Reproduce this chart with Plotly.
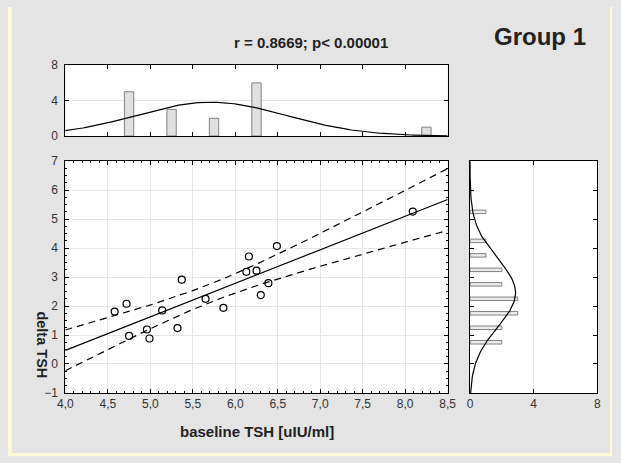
import numpy as np
import plotly.graph_objects as go

# ---- data ----
baseline_tsh = [4.58, 4.72, 4.75, 4.96, 4.99, 5.14, 5.32, 5.37, 5.65, 5.86,
                6.13, 6.16, 6.25, 6.30, 6.39, 6.49, 8.09]
delta_tsh = [1.81, 2.08, 0.97, 1.19, 0.88, 1.85, 1.24, 2.91, 2.25, 1.94,
             3.18, 3.71, 3.22, 2.38, 2.79, 4.07, 5.26]

top_bin_centers = [4.75, 5.25, 5.75, 6.25, 6.75, 7.25, 7.75, 8.25]
top_counts = [5, 3, 2, 6, 0, 0, 0, 1]
right_bin_centers = [0.75, 1.25, 1.75, 2.25, 2.75, 3.25, 3.75, 4.25, 4.75, 5.25]
right_counts = [2, 2, 3, 3, 2, 2, 1, 1, 0, 1]

x_ticks = [4.0, 4.5, 5.0, 5.5, 6.0, 6.5, 7.0, 7.5, 8.0, 8.5]
x_ticklabels = ["4,0", "4,5", "5,0", "5,5", "6,0", "6,5", "7,0", "7,5", "8,0", "8,5"]
y_ticks = [-1, 0, 1, 2, 3, 4, 5, 6, 7]
hist_ticks = [0, 4, 8]

title_text = "r = 0.8669; p< 0.00001"
group_text = "Group 1"
x_title = "baseline TSH [uIU/ml]"
y_title = "delta TSH"

# ---- derived fit (linear regression with 95% confidence band) ----
x = np.array(baseline_tsh)
y = np.array(delta_tsh)
n = len(x)
slope, intercept = np.polyfit(x, y, 1)
resid = y - (slope * x + intercept)
s = np.sqrt(np.sum(resid ** 2) / (n - 2))
xm = x.mean()
sxx = np.sum((x - xm) ** 2)
t_crit = 2.1314
xg = np.linspace(4.0, 8.5, 200)
yfit = slope * xg + intercept
half = t_crit * s * np.sqrt(1.0 / n + (xg - xm) ** 2 / sxx)

# normal curves for marginal histograms
bw = 0.5
mx, sx = x.mean(), x.std(ddof=1)
my, sy = y.mean(), y.std(ddof=1)
xc = np.linspace(3.5, 8.5, 200)
top_curve = n * bw * np.exp(-0.5 * ((xc - mx) / sx) ** 2) / (sx * np.sqrt(2 * np.pi))
yc = np.linspace(-1, 7, 200)
right_curve = n * bw * np.exp(-0.5 * ((yc - my) / sy) ** 2) / (sy * np.sqrt(2 * np.pi))

# non-empty bins only (empty bins draw nothing)
top_c = [c for c, k in zip(top_bin_centers, top_counts) if k > 0]
top_k = [k for k in top_counts if k > 0]
right_c = [c for c, k in zip(right_bin_centers, right_counts) if k > 0]
right_k = [k for k in right_counts if k > 0]

W, H = 621, 463
def px(v):
    return v / W
def py(v):
    return 1 - v / H

fig = go.Figure()

# main scatter
fig.add_trace(go.Scatter(x=xg, y=yfit, mode="lines", line=dict(color="black", width=1.2),
                         xaxis="x", yaxis="y", hoverinfo="skip"))
fig.add_trace(go.Scatter(x=xg, y=yfit + half, mode="lines",
                         line=dict(color="black", width=1.2, dash="7px,5px"), xaxis="x", yaxis="y"))
fig.add_trace(go.Scatter(x=xg, y=yfit - half, mode="lines",
                         line=dict(color="black", width=1.2, dash="7px,5px"), xaxis="x", yaxis="y"))
fig.add_trace(go.Scatter(x=baseline_tsh, y=delta_tsh, mode="markers",
                         marker=dict(symbol="circle-open", size=7, color="black",
                                     line=dict(width=1.2, color="black")),
                         xaxis="x", yaxis="y"))

# top histogram
fig.add_trace(go.Bar(x=top_c, y=top_k, width=0.11,
                     marker=dict(color="#e0e0e0", line=dict(color="#808080", width=1)),
                     xaxis="x2", yaxis="y2"))
fig.add_trace(go.Scatter(x=xc, y=top_curve, mode="lines", line=dict(color="black", width=1.2),
                         xaxis="x2", yaxis="y2"))

# right histogram
fig.add_trace(go.Bar(y=right_c, x=right_k, width=0.12, orientation="h",
                     marker=dict(color="#ececec", line=dict(color="#808080", width=1)),
                     xaxis="x3", yaxis="y3"))
fig.add_trace(go.Scatter(x=right_curve, y=yc, mode="lines", line=dict(color="black", width=1.2),
                         xaxis="x3", yaxis="y3"))

tickfont = dict(family="Liberation Sans, Arial, sans-serif", size=12, color="#333333")
grid = "#e6e6e6"
common = dict(showline=True, linecolor="black", linewidth=1, mirror="ticks", ticks="inside",
              ticklen=4, tickcolor="black", zeroline=False, tickfont=tickfont, gridcolor=grid,
              gridwidth=1, fixedrange=True)

main_x_dom = [px(59), px(452)]
main_y_dom = [py(398), py(159)]

fig.update_layout(
    width=W, height=H,
    margin=dict(l=0, r=0, t=0, b=0, pad=0),
    paper_bgcolor="#e4e4e4",
    plot_bgcolor="white",
    showlegend=False,
    xaxis=dict(domain=main_x_dom, range=[4, 8.5], tickvals=x_ticks, ticktext=x_ticklabels,
               showgrid=True, anchor="y",
               minor=dict(ticks="inside", dtick=0.1, tick0=4, ticklen=2, tickcolor="black",
                          showgrid=False), **common),
    yaxis=dict(domain=main_y_dom, range=[-1, 7], tickvals=y_ticks, showgrid=True, anchor="x",
               ticklabelstandoff=4,
               minor=dict(ticks="inside", dtick=0.25, tick0=0, ticklen=2, tickcolor="black",
                          showgrid=False), **common),
    xaxis2=dict(domain=main_x_dom, range=[4, 8.5], tickvals=x_ticks, showticklabels=False,
                showgrid=False, anchor="y2", **common),
    yaxis2=dict(domain=[py(133), py(60)], range=[0, 8], tickvals=hist_ticks, showgrid=True,
                anchor="x2", ticklabelstandoff=4, **common),
    xaxis3=dict(domain=[px(475), px(606)], range=[0, 8], tickvals=hist_ticks, showgrid=True,
                anchor="y3", **common),
    yaxis3=dict(domain=main_y_dom, range=[-1, 7], tickvals=y_ticks, showticklabels=False,
                showgrid=False, anchor="x3", **common),
    font=dict(family="Liberation Sans, Arial, sans-serif", color="#222222"),
)

# yellow outer strips
for (x0, x1, y0, y1) in [(0, 4, 0, H), (619, W, 0, H), (0, W, 460, H)]:
    fig.add_shape(type="rect", xref="paper", yref="paper", x0=px(x0), x1=px(x1),
                  y0=py(y1), y1=py(y0), fillcolor="#fff9d6", line=dict(width=0), layer="below")

bold = "Liberation Sans, Arial, sans-serif"
ann = dict(xref="paper", yref="paper", showarrow=False, xanchor="center", yanchor="middle")
fig.add_annotation(x=px(312), y=py(37), text="<b>%s</b>" % title_text,
                   font=dict(family=bold, size=15, color="#222222"), **ann)
fig.add_annotation(x=px(547), y=py(30), text="<b>%s</b>" % group_text,
                   font=dict(family=bold, size=24, color="#222222"), **ann)
fig.add_annotation(x=px(256), y=py(438), text="<b>%s</b>" % x_title,
                   font=dict(family=bold, size=15, color="#222222"), **ann)
fig.add_annotation(x=px(34), y=py(348), text="<b>%s</b>" % y_title, textangle=90,
                   font=dict(family=bold, size=14.5, color="#222222"), **ann)

fig.write_html("out.html", config={"displayModeBar": False},
               post_script=("document.body.style.margin='0';"
                            "document.body.style.overflow='hidden';"))
